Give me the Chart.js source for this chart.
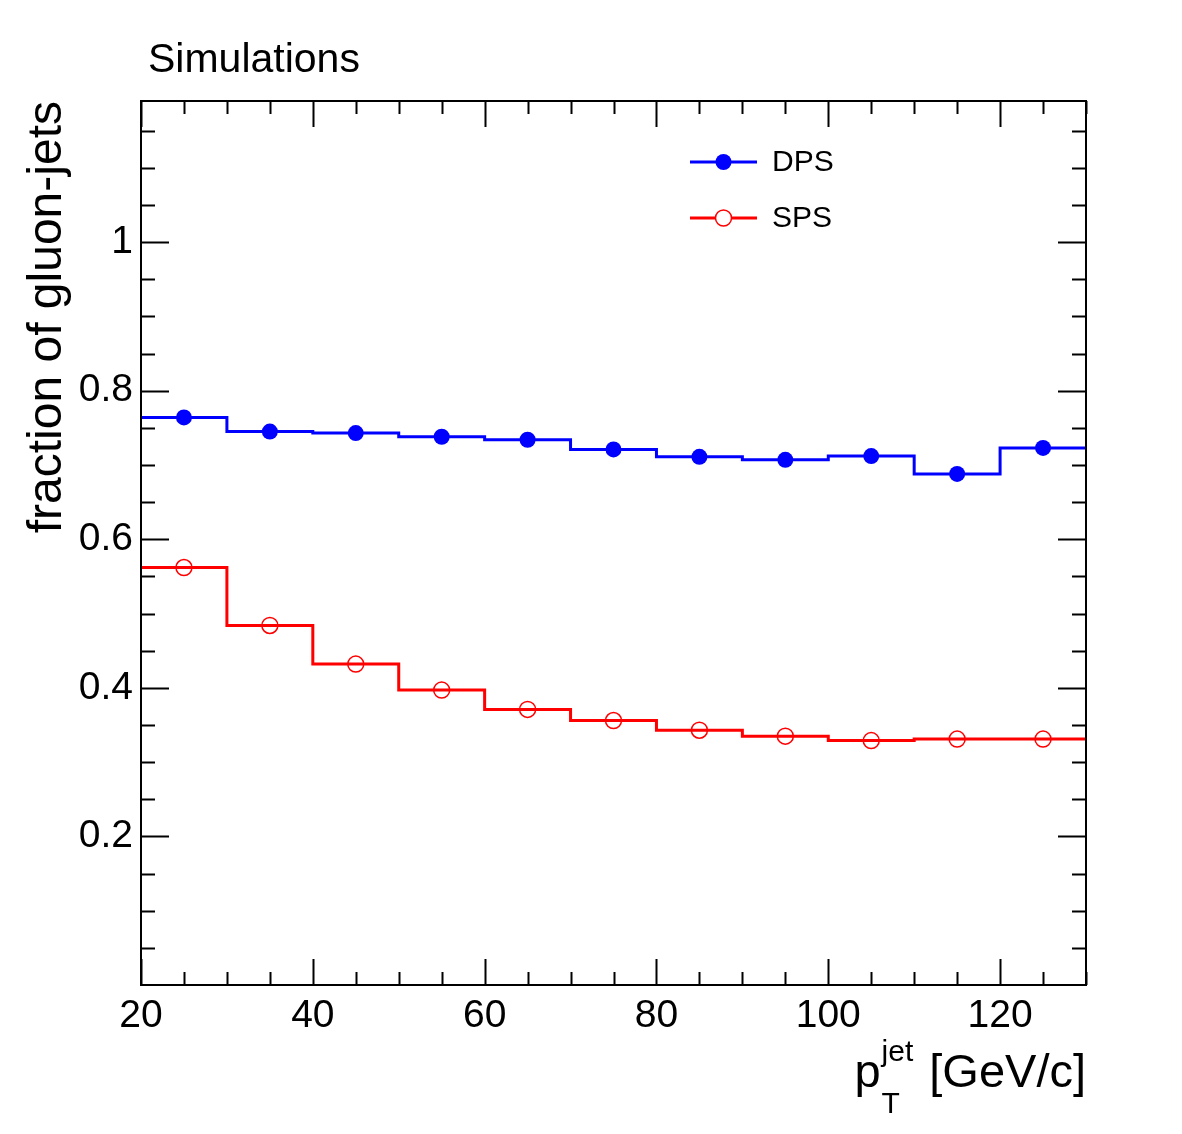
<!DOCTYPE html>
<html>
<head>
<meta charset="utf-8">
<script src="https://cdn.jsdelivr.net/npm/chart.js"></script>
<style>
  html, body { margin: 0; padding: 0; background: #fff; }
  canvas { display: block; }
</style>
</head>
<body>
<canvas id="gluonChart" width="1182" height="1134"></canvas>
<script>
// pT bins (GeV/c) and gluon-jet fraction per bin
const binEdges = [20, 30, 40, 50, 60, 70, 80, 90, 100, 110, 120, 130];
const dpsValues = [0.764, 0.745, 0.743, 0.738, 0.734, 0.721, 0.711, 0.707, 0.712, 0.688, 0.723];
const spsValues = [0.562, 0.484, 0.432, 0.397, 0.371, 0.356, 0.343, 0.335, 0.329, 0.331, 0.331];
const xTicks = [20, 40, 60, 80, 100, 120];
const yTicks = [0.2, 0.4, 0.6, 0.8, 1];
const seriesNames = ['DPS', 'SPS'];

const FONT = '"Liberation Sans", Arial, Helvetica, sans-serif';
const BLUE = '#0000ff';
const RED = '#ff0000';

// histogram outline: one point per left edge, plus the last right edge
function stepPoints(values) {
  const pts = values.map((v, i) => ({ x: binEdges[i], y: v }));
  pts.push({ x: binEdges[binEdges.length - 1], y: values[values.length - 1] });
  return pts;
}
function centerPoints(values) {
  return values.map((v, i) => ({ x: (binEdges[i] + binEdges[i + 1]) / 2, y: v }));
}

// ROOT-like frame, inward ticks, titles and legend
const rootStyle = {
  id: 'rootStyle',
  afterDraw(chart) {
    const { ctx, chartArea: a, scales: { x, y } } = chart;
    ctx.save();
    ctx.strokeStyle = '#000';
    ctx.lineWidth = 2;
    ctx.strokeRect(a.left, a.top, a.right - a.left, a.bottom - a.top);

    ctx.beginPath();
    for (let i = 0; 20 + i * 5 <= x.max + 1e-9; i++) {
      const v = 20 + i * 5;
      const px = Math.round(x.getPixelForValue(v)) + 0.5;
      const len = xTicks.includes(v) ? 26 : 13;
      ctx.moveTo(px, a.bottom); ctx.lineTo(px, a.bottom - len);
      ctx.moveTo(px, a.top); ctx.lineTo(px, a.top + len);
    }
    for (let i = 1; i * 0.05 <= y.max + 1e-9; i++) {
      const py = Math.round(y.getPixelForValue(i * 0.05)) + 0.5;
      const len = i % 4 === 0 ? 28 : 14;
      ctx.moveTo(a.left, py); ctx.lineTo(a.left + len, py);
      ctx.moveTo(a.right, py); ctx.lineTo(a.right - len, py);
    }
    ctx.stroke();

    ctx.fillStyle = '#000';
    ctx.textBaseline = 'alphabetic';

    // header
    ctx.textAlign = 'left';
    ctx.font = '41px ' + FONT;
    ctx.fillText('Simulations', 148, 72);

    // y title, right aligned at top of frame
    ctx.save();
    ctx.translate(61, a.top);
    ctx.rotate(-Math.PI / 2);
    ctx.textAlign = 'right';
    ctx.font = '48px ' + FONT;
    ctx.fillText('fraction of gluon-jets', 0, 0);
    ctx.restore();

    // x title: p_T^jet [GeV/c], right aligned at frame edge
    ctx.textAlign = 'right';
    ctx.font = '47px ' + FONT;
    const tail = ' [GeV/c]';
    ctx.fillText(tail, a.right, 1087);
    const tailW = ctx.measureText(tail).width;
    ctx.font = '30px ' + FONT;
    const supW = ctx.measureText('jet').width;
    const scriptX = a.right - tailW - supW - 3;
    ctx.textAlign = 'left';
    ctx.fillText('jet', scriptX, 1061);
    ctx.fillText('T', scriptX, 1113);
    ctx.font = '47px ' + FONT;
    ctx.textAlign = 'right';
    ctx.fillText('p', scriptX - 1, 1087);

    // legend
    const rows = [
      { name: seriesNames[0], color: BLUE, filled: true, y: a.top + 61 },
      { name: seriesNames[1], color: RED, filled: false, y: a.top + 117 }
    ];
    const x0 = a.left + 549, x1 = a.left + 616, xm = (x0 + x1) / 2;
    rows.forEach(r => {
      ctx.strokeStyle = r.color;
      ctx.fillStyle = r.color;
      ctx.lineWidth = 3;
      ctx.beginPath();
      ctx.moveTo(x0, r.y); ctx.lineTo(x1, r.y);
      ctx.stroke();
      ctx.beginPath();
      ctx.arc(xm, r.y, 8, 0, Math.PI * 2);
      if (r.filled) {
        ctx.fill();
      } else {
        ctx.fillStyle = '#fff';
        ctx.fill();
        ctx.lineWidth = 1.5;
        ctx.stroke();
      }
      ctx.fillStyle = '#000';
      ctx.font = '30px ' + FONT;
      ctx.textAlign = 'left';
      ctx.textBaseline = 'middle';
      ctx.fillText(r.name, a.left + 631, r.y + 1);
    });
    ctx.restore();
  }
};

new Chart(document.getElementById('gluonChart'), {
  type: 'line',
  data: {
    datasets: [
      {
        label: 'DPS', data: stepPoints(dpsValues), stepped: 'before',
        borderColor: BLUE, borderWidth: 3, pointRadius: 0, fill: false
      },
      {
        label: 'SPS', data: stepPoints(spsValues), stepped: 'before',
        borderColor: RED, borderWidth: 3, pointRadius: 0, fill: false
      },
      {
        label: 'DPS points', data: centerPoints(dpsValues), showLine: false,
        pointStyle: 'circle', pointRadius: 8, pointBorderWidth: 0,
        pointBackgroundColor: BLUE, pointBorderColor: BLUE
      },
      {
        label: 'SPS points', data: centerPoints(spsValues), showLine: false,
        pointStyle: 'circle', pointRadius: 8, pointBorderWidth: 1.5,
        pointBackgroundColor: 'rgba(0,0,0,0)', pointBorderColor: RED
      }
    ]
  },
  options: {
    responsive: false,
    animation: false,
    devicePixelRatio: 1,
    layout: { padding: { top: 101, right: 96, left: 0, bottom: 0 } },
    plugins: { legend: { display: false }, tooltip: { enabled: false } },
    scales: {
      x: {
        type: 'linear', position: 'bottom', min: 20, max: 130,
        afterBuildTicks: s => { s.ticks = xTicks.map(v => ({ value: v })); },
        afterFit: s => { s.height = 149; },
        grid: { display: false }, border: { display: false },
        ticks: { color: '#000', padding: 0, maxRotation: 0, font: { size: 39, family: FONT } }
      },
      y: {
        type: 'linear', min: 0, max: 1.19,
        afterBuildTicks: s => { s.ticks = yTicks.map(v => ({ value: v })); },
        afterFit: s => { s.width = 141; },
        grid: { display: false }, border: { display: false },
        ticks: {
          color: '#000', padding: 0, font: { size: 39, family: FONT },
          callback: v => String(Math.round(v * 10) / 10)
        }
      }
    }
  },
  plugins: [rootStyle]
});
</script>
</body>
</html>
